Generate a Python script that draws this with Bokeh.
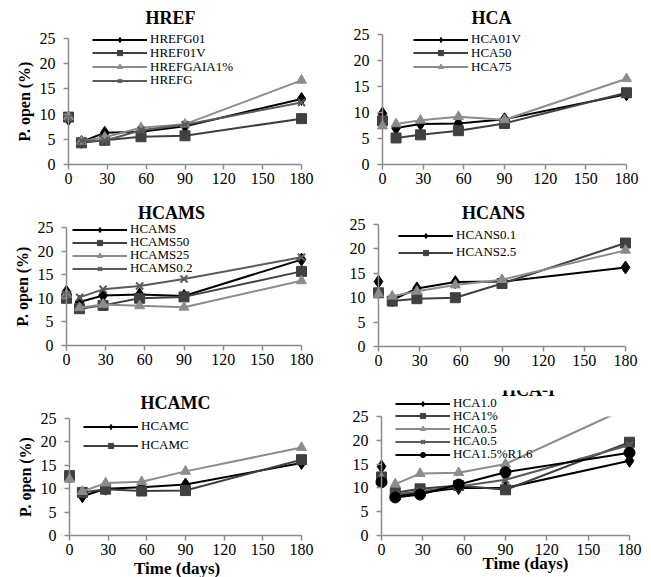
from bokeh.plotting import figure
from bokeh.models import Range1d, FixedTicker, Legend, LegendItem, Label, BoxAnnotation
from bokeh.layouts import row, column
from bokeh.embed import file_html
from bokeh.resources import INLINE

# ---------------- data ----------------
days = [0, 10, 28, 56, 90, 180]
x_ticks = [0, 30, 60, 90, 120, 150, 180]
y_ticks = [0, 5, 10, 15, 20, 25]

# HREF
href_g01 = [9.0, 4.5, 6.3, 6.5, 7.6, 13.0]
href_01v = [9.4, 4.3, 4.8, 5.5, 5.7, 9.1]
href_gaia = [9.5, 4.6, 5.4, 7.3, 8.0, 16.7]
href_g = [9.3, 4.7, 4.7, 6.8, 7.9, 12.3]

# HCA
hca_01v = [9.8, 7.0, 7.8, 7.9, 8.7, 13.5]
hca_50 = [8.4, 5.1, 5.7, 6.5, 7.9, 13.8]
hca_75 = [7.4, 7.8, 8.5, 9.2, 8.6, 16.5]

# HCAMS
hcams = [11.4, 9.2, 10.6, 10.8, 10.5, 18.2]
hcams_50 = [10.0, 7.8, 8.5, 10.0, 10.3, 15.7]
hcams_25 = [10.8, 8.0, 8.7, 8.4, 8.1, 13.7]
hcams_02 = [10.8, 10.2, 11.9, 12.6, 14.1, 18.7]

# HCANS
hcans_01 = [13.3, 9.5, 11.9, 13.2, 13.3, 16.2]
hcans_25 = [11.0, 9.3, 9.8, 10.0, 12.9, 21.2]
hcans_3 = [10.8, 10.3, 11.3, 12.6, 13.7, 19.7]

# HCAMC
hcamc_a = [12.5, 8.4, 10.0, 10.3, 10.9, 15.5]
hcamc_b = [12.8, 9.2, 9.9, 9.5, 9.6, 16.2]
hcamc_c = [12.0, 9.4, 11.2, 11.5, 13.7, 18.8]

# HCA-I
hcai_10 = [14.5, 8.3, 9.0, 10.0, 10.0, 15.7]
hcai_1p = [12.3, 9.0, 9.8, 10.5, 9.6, 19.6]
hcai_05a = [12.0, 10.8, 13.0, 13.2, 15.0, 27.0]
hcai_05b = [11.5, 8.6, 9.3, 10.3, 11.7, 19.0]
hcai_15 = [11.2, 8.0, 8.6, 10.7, 13.3, 17.4]

# ---------------- styles ----------------
FONT = "Liberation Serif"
AXIS_COLOR = "#8c8c8c"
STY = {
    "diamond": dict(marker="diamond", color="#000000", size=13),
    "square": dict(marker="square", color="#404040", size=10),
    "triangle": dict(marker="triangle", color="#8c8c8c", size=10),
    "x": dict(marker="x", color="#5a5a5a", size=10),
    "circle": dict(marker="circle", color="#000000", size=11),
}
ITEM_H = 16


def panel(W, H, x0, x180, y0, y25, title, title_xy, series, leg_x_px, leg_centers,
          ylabel=None, xlabel_xy=None, mask_top=False):
    kx = (x180 - x0) / 180.0
    ky = (y0 - y25) / 25.0
    xr = Range1d(-x0 / kx, 180 + (W - x180) / kx)
    yr = Range1d(-(H - y0) / ky, 25 + y25 / ky)
    p = figure(width=W, height=H, x_range=xr, y_range=yr,
               min_border_left=0, min_border_right=0, min_border_top=0, min_border_bottom=0,
               toolbar_location=None, output_backend="svg", title=None)
    p.outline_line_color = None
    p.xgrid.visible = False
    p.ygrid.visible = False
    p.background_fill_color = "white"
    p.border_fill_color = "white"

    for ax in (p.xaxis, p.yaxis):
        ax.axis_line_color = AXIS_COLOR
        ax.axis_line_width = 1.5
        ax.major_tick_line_color = AXIS_COLOR
        ax.major_tick_line_width = 1.5
        ax.major_tick_in = 0
        ax.major_tick_out = 5
        ax.minor_tick_line_color = None
        ax.major_label_text_font = FONT
        ax.major_label_text_font_size = "16px"
        ax.major_label_text_color = "black"
        ax.fixed_location = 0
    p.xaxis.ticker = FixedTicker(ticks=x_ticks)
    p.xaxis.bounds = (0, 180)
    p.xaxis.major_label_standoff = 3
    p.yaxis.ticker = FixedTicker(ticks=y_ticks)
    p.yaxis.bounds = (0, 25)
    p.yaxis.major_label_standoff = 8
    if ylabel:
        p.yaxis.axis_label = ylabel
        p.yaxis.axis_label_text_font = FONT
        p.yaxis.axis_label_text_font_size = "16px"
        p.yaxis.axis_label_text_font_style = "bold"
        p.yaxis.axis_label_text_color = "black"
        p.yaxis.axis_label_standoff = 4

    items = []
    for name, ys, st in series:
        s = STY[st]
        rl = p.line(days[1:], ys[1:], line_color=s["color"], line_width=2)
        if st == "x":
            rp = p.scatter(days, ys, marker="x", size=s["size"], line_color=s["color"], line_width=2)
        else:
            rp = p.scatter(days, ys, marker=s["marker"], size=s["size"],
                           fill_color=s["color"], line_color=s["color"])
        if name:
            items.append(LegendItem(label=name, renderers=[rl, rp]))

    if mask_top:
        p.add_layout(BoxAnnotation(bottom=25, left=1, fill_color="white", fill_alpha=1,
                                   line_color=None))

    p.add_layout(Label(x=title_xy[0], y=title_xy[1], text=title, text_font=FONT,
                       text_font_size="18px", text_font_style="bold", text_color="black",
                       text_align="center", text_baseline="middle"))

    for item, cy in zip(items, leg_centers):
        leg = Legend(items=[item], location=(leg_x_px, H - (cy + ITEM_H / 2.0)),
                     background_fill_alpha=0, border_line_color=None, padding=0, margin=0,
                     spacing=0, glyph_width=55, glyph_height=13, label_height=13,
                     label_standoff=3, label_text_font=FONT, label_text_font_size="13px",
                     label_text_color="black")
        p.add_layout(leg)

    if xlabel_xy:
        p.add_layout(Label(x=xlabel_xy[0], y=xlabel_xy[1], text="Time (days)", text_font=FONT,
                           text_font_size="17px", text_font_style="bold", text_color="black",
                           text_align="center", text_baseline="middle"))
    return p


p1 = panel(325, 190, 68, 301, 164, 38, "HREF", (78.8, 29.0),
           [("HREFG01", href_g01, "diamond"), ("HREF01V", href_01v, "square"),
            ("HREFGAIA1%", href_gaia, "triangle"), ("HREFG", href_g, "x")],
           92, [39, 52.5, 66.5, 80], ylabel="P. open (%)")
p2 = panel(326, 190, 57, 301, 164, 34, "HCA", (80.4, 28.1),
           [("HCA01V", hca_01v, "diamond"), ("HCA50", hca_50, "square"),
            ("HCA75", hca_75, "triangle")],
           88, [39, 52.5, 66.5])
p3 = panel(325, 190, 66, 301, 155, 37, "HCAMS", (80.4, 28.0),
           [("HCAMS", hcams, "diamond"), ("HCAMS50", hcams_50, "square"),
            ("HCAMS25", hcams_25, "triangle"), ("HCAMS0.2", hcams_02, "x")],
           72, [39, 52, 65, 78], ylabel="P. open (%)")
p4 = panel(326, 200, 53, 300, 156, 34, "HCANS", (83.8, 27.3),
           [("HCANS0.1", hcans_01, "diamond"), ("HCANS2.5", hcans_25, "square"),
            (None, hcans_3, "triangle")],
           73, [45, 62])
p5 = panel(325, 197, 69, 301, 155, 38, "HCAMC", (82.2, 28.3),
           [("HCAMC", hcamc_a, "diamond"), ("HCAMC", hcamc_b, "square"),
            (None, hcamc_c, "triangle")],
           83, [46, 65], ylabel="P. open (%)", xlabel_xy=(83.5, -7.05))
p6 = panel(326, 187, 56, 304, 145, 26, "HCA-I", (106.7, 30.6),
           [("HCA1.0", hcai_10, "diamond"), ("HCA1%", hcai_1p, "square"),
            ("HCA0.5", hcai_05a, "triangle"), ("HCA0.5", hcai_05b, "x"),
            ("HCA1.5%R1.6", hcai_15, "circle")],
           70, [13, 25.8, 38.5, 51.3, 64], xlabel_xy=(104.5, -5.8), mask_top=True)

layout = row(column(p1, p3, p5), column(p2, p4, p6))
open("out.html", "w").write(file_html(layout, INLINE))
